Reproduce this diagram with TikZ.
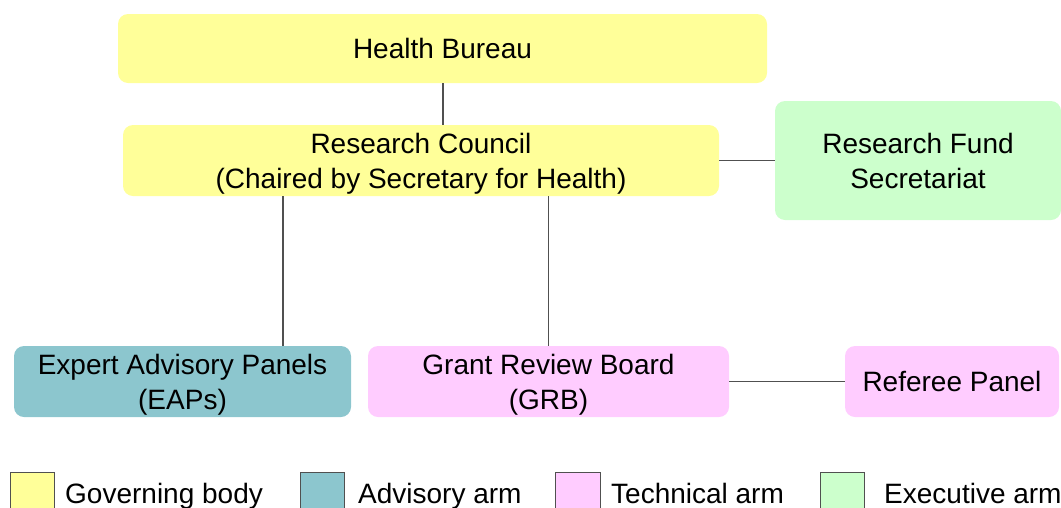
\documentclass[tikz,border=0pt]{standalone}
\usepackage{fontspec}
\setmainfont{Liberation Sans}
\definecolor{govy}{HTML}{FFFF99}
\definecolor{advt}{HTML}{8CC6CE}
\definecolor{tecp}{HTML}{FFCCFF}
\definecolor{exeg}{HTML}{CCFFCC}
\definecolor{linec}{HTML}{505050}
\begin{document}
\begin{tikzpicture}[x=1pt,y=-1pt,
  box/.style={rounded corners=10pt, inner sep=0pt, align=center, text depth=0pt,
    font=\fontsize{28}{35}\selectfont},
  conn/.style={draw=linec, line width=1.2pt},
  legsq/.style={draw=linec, line width=1pt},
  legtxt/.style={anchor=base west, inner sep=0pt, font=\fontsize{28}{35}\selectfont}]
\path[use as bounding box] (0,0) rectangle (1061,507);
\clip (0,0) rectangle (1061,507);
\node[box, fill=govy, minimum width=649pt, minimum height=69pt] (HB) at (442.5,48.5) {Health Bureau};
\node[box, fill=govy, minimum width=596pt, minimum height=71pt] (RC) at (421,160.5) {Research Council\\(Chaired by Secretary for Health)};
\node[box, fill=exeg, minimum width=286pt, minimum height=119pt] (RFS) at (918,160.5) {Research Fund\\Secretariat};
\node[box, fill=advt, minimum width=337pt, minimum height=71pt] (EAP) at (182.5,381.5) {Expert Advisory Panels\\(EAPs)};
\node[box, fill=tecp, minimum width=361pt, minimum height=71pt] (GRB) at (548.5,381.5) {Grant Review Board\\(GRB)};
\node[box, fill=tecp, minimum width=214pt, minimum height=71pt] (RP) at (952,381.5) {Referee Panel};
\draw[conn] ([xshift=0.5pt]HB.south) -- ([xshift=0.5pt]HB.south |- RC.north);
\draw[conn] (RC.east) -- (RFS.west);
\draw[conn] ([xshift=100.5pt]EAP.north) -- ([xshift=100.5pt]EAP.north |- RC.south);
\draw[conn] (GRB.north) -- (GRB.north |- RC.south);
\draw[conn] (GRB.east) -- (RP.west);
% legend
\draw[legsq, fill=govy] (10,472) rectangle (54,508);
\node[legtxt] (L1) at (65,503) {Governing body};
\draw[legsq, fill=advt] (300,472) rectangle (344,508);
\node[legtxt] (L2) at (358,503) {Advisory arm};
\draw[legsq, fill=tecp] (555,472) rectangle (600,508);
\node[legtxt] (L3) at (611,503) {Technical arm};
\draw[legsq, fill=exeg] (820,472) rectangle (864,508);
\node[legtxt] (L4) at (884,503) {Executive arm};
\end{tikzpicture}
\end{document}
